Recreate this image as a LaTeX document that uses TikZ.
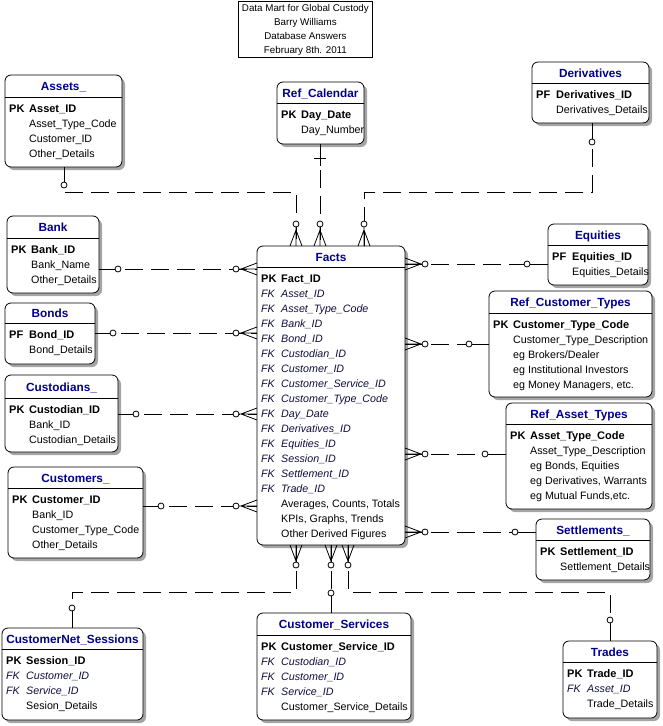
\documentclass[tikz,border=0pt]{standalone}
\usepackage{fontspec}
\setmainfont{Liberation Sans}
\definecolor{navy}{RGB}{0,0,140}
\definecolor{fkc}{RGB}{15,15,60}
\definecolor{shadowc}{RGB}{165,165,165}
\newcommand{\keyrow}[2]{{\fontsize{11}{15}\selectfont\bfseries\makebox[20pt][l]{#1}#2}}
\newcommand{\fkrow}[1]{{\color{fkc}\itshape\makebox[20pt][l]{FK}#1}}
\newcommand{\atrow}[1]{\makebox[20pt]{}#1}
\tikzset{
 ebox/.style={draw, line width=0.8pt, fill=white, rounded corners=6pt, anchor=north west, inner sep=0pt, outer sep=0pt},
 etitle/.style={font=\fontsize{11.8}{14}\selectfont\bfseries, text=navy, inner sep=0pt, text height=8.5pt, text depth=0.5pt},
 rows/.style={anchor=north west, inner sep=0pt, align=left, font=\fontsize{10.7}{15}\selectfont},
 rel/.style={line width=0.8pt, dash pattern=on 18pt off 8pt},
 stub/.style={line width=0.8pt},
}
% #1 name, #2 x1, #3 y1, #4 x2, #5 y2, #6 header y, #7 title, #8 rows
\newcommand{\entity}[8]{%
  \fill[shadowc, rounded corners=6pt] (#2+3,#3+3) rectangle (#4+3,#5+3);
  \node[ebox, minimum width=#4-#2, minimum height=#5-#3] (#1) at (#2,#3) {};
  \draw[line width=0.8pt] (#2,#6) -- (#4,#6);
  \node[etitle] (#1t) at ({(#2+#4)/2},{(#3+#6)/2+0.5}) {#7};
  \node[rows] (#1r) at (#2+4,#6+5) {\rule{0pt}{10pt}#8};
}
\newcommand{\zc}[2]{\draw[stub, fill=white] (#1,#2) circle[radius=3pt];}
\newcommand{\crowT}[1]{\draw[stub] (#1-6,246) -- (#1,230) -- (#1+6,246) (#1,227) -- (#1,246);}
\newcommand{\crowB}[1]{\draw[stub] (#1-6,545) -- (#1,561) -- (#1+6,545) (#1,545) -- (#1,562);}
\newcommand{\crowL}[1]{\draw[stub] (257,#1-6) -- (241,#1) -- (257,#1+6) (239,#1) -- (257,#1);}
\newcommand{\crowR}[1]{\draw[stub] (405,#1-6) -- (421,#1) -- (405,#1+6) (422,#1) -- (405,#1);}
\begin{document}
\begin{tikzpicture}[x=1pt,y=-1pt]
\useasboundingbox (0,0) rectangle (662,726);

\node[draw, line width=0.8pt, anchor=north west, minimum width=134, minimum height=56, inner sep=0pt, align=center, font=\fontsize{9.8}{14}\selectfont] (hdr) at (238,1) {\rule{0pt}{8pt}Data Mart for Global Custody\\Barry Williams\\Database Answers\\February 8th. 2011};

\entity{assets}{5}{75}{122}{167}{97}{Assets\_}{\keyrow{PK}{Asset\_ID}\\ \atrow{Asset\_Type\_Code}\\ \atrow{Customer\_ID}\\ \atrow{Other\_Details}}
\entity{refcal}{277}{82}{364}{144}{103}{Ref\_Calendar}{\keyrow{PK}{Day\_Date}\\ \atrow{Day\_Number}}
\entity{deriv}{532}{62}{649}{123}{83}{Derivatives}{\keyrow{PF}{Derivatives\_ID}\\ \atrow{Derivatives\_Details}}
\entity{bank}{7}{216}{99}{293}{238}{Bank}{\keyrow{PK}{Bank\_ID}\\ \atrow{Bank\_Name}\\ \atrow{Other\_Details}}
\entity{bonds}{5}{303}{95}{364}{323}{Bonds}{\keyrow{PF}{Bond\_ID}\\ \atrow{Bond\_Details}}
\entity{custod}{5}{375}{118}{452}{398}{Custodians\_}{\keyrow{PK}{Custodian\_ID}\\ \atrow{Bank\_ID}\\ \atrow{Custodian\_Details}}
\entity{customers}{8}{467}{143}{558}{488}{Customers\_}{\keyrow{PK}{Customer\_ID}\\ \atrow{Bank\_ID}\\ \atrow{Customer\_Type\_Code}\\ \atrow{Other\_Details}}
\entity{facts}{257}{246}{405}{545}{267}{Facts}{\keyrow{PK}{Fact\_ID}\\ \fkrow{Asset\_ID}\\ \fkrow{Asset\_Type\_Code}\\ \fkrow{Bank\_ID}\\ \fkrow{Bond\_ID}\\ \fkrow{Custodian\_ID}\\ \fkrow{Customer\_ID}\\ \fkrow{Customer\_Service\_ID}\\ \fkrow{Customer\_Type\_Code}\\ \fkrow{Day\_Date}\\ \fkrow{Derivatives\_ID}\\ \fkrow{Equities\_ID}\\ \fkrow{Session\_ID}\\ \fkrow{Settlement\_ID}\\ \fkrow{Trade\_ID}\\ \atrow{Averages, Counts, Totals}\\ \atrow{KPIs, Graphs, Trends}\\ \atrow{Other Derived Figures}}
\entity{equities}{548}{224}{648}{285}{245}{Equities}{\keyrow{PF}{Equities\_ID}\\ \atrow{Equities\_Details}}
\entity{rct}{489}{291}{652}{397}{313}{Ref\_Customer\_Types}{\keyrow{PK}{Customer\_Type\_Code}\\ \atrow{Customer\_Type\_Description}\\ \atrow{eg Brokers/Dealer}\\ \atrow{eg Institutional Investors}\\ \atrow{eg Money Managers, etc.}}
\entity{rat}{506}{403}{652}{509}{424}{Ref\_Asset\_Types}{\keyrow{PK}{Asset\_Type\_Code}\\ \atrow{Asset\_Type\_Description}\\ \atrow{eg Bonds, Equities}\\ \atrow{eg Derivatives, Warrants}\\ \atrow{eg Mutual Funds,etc.}}
\entity{settle}{536}{519}{650}{580}{540}{Settlements\_}{\keyrow{PK}{Settlement\_ID}\\ \atrow{Settlement\_Details}}
\entity{cns}{2}{628}{143}{720}{649}{CustomerNet\_Sessions}{\keyrow{PK}{Session\_ID}\\ \fkrow{Customer\_ID}\\ \fkrow{Service\_ID}\\ \atrow{Sesion\_Details}}
\entity{cs}{257}{613}{411}{720}{635}{Customer\_Services}{\keyrow{PK}{Customer\_Service\_ID}\\ \fkrow{Custodian\_ID}\\ \fkrow{Customer\_ID}\\ \fkrow{Service\_ID}\\ \atrow{Customer\_Service\_Details}}
\entity{trades}{563}{641}{657}{718}{662}{Trades}{\keyrow{PK}{Trade\_ID}\\ \fkrow{Asset\_ID}\\ \atrow{Trade\_Details}}

% top connectors
\draw[rel] (64,0 |- assets.south) -- (64,192) -- (296,192) -- (296,0 |- facts.north);
\draw[stub] (64,0 |- assets.south) -- (64,182);
\zc{64}{185}\zc{296}{224}\crowT{296}

\draw[rel] (320,0 |- refcal.south) -- (320,0 |- facts.north);
\draw[stub] (320,0 |- refcal.south) -- (320,166);
\draw[stub] (314,158) -- (326,158);
\zc{320}{224}\crowT{320}

\draw[rel] (592,0 |- deriv.south) -- (592,192) -- (364,192) -- (364,0 |- facts.north);
\draw[stub] (592,0 |- deriv.south) -- (592,139);
\zc{592}{142}\zc{364}{224}\crowT{364}

% left connectors
\draw[rel] (bank.east |- 0,269) -- (facts.west |- 0,269);
\draw[stub] (bank.east |- 0,269) -- (115,269);
\zc{118}{269}\zc{236}{269}\crowL{269}

\draw[rel] (bonds.east |- 0,333) -- (facts.west |- 0,333);
\draw[stub] (bonds.east |- 0,333) -- (110,333);
\zc{113}{333}\zc{236}{333}\crowL{333}

\draw[rel] (custod.east |- 0,414) -- (facts.west |- 0,414);
\draw[stub] (custod.east |- 0,414) -- (133,414);
\zc{136}{414}\zc{236}{414}\crowL{414}

\draw[rel] (customers.east |- 0,506) -- (facts.west |- 0,506);
\draw[stub] (customers.east |- 0,506) -- (158,506);
\zc{161}{506}\zc{236}{506}\crowL{506}

% right connectors
\draw[rel] (facts.east |- 0,264) -- (equities.west |- 0,264);
\draw[stub] (530,264) -- (equities.west |- 0,264);
\zc{527}{264}\zc{425}{264}\crowR{264}

\draw[rel] (facts.east |- 0,344) -- (rct.west |- 0,344);
\draw[stub] (472,344) -- (rct.west |- 0,344);
\zc{469}{344}\zc{425}{344}\crowR{344}

\draw[rel] (facts.east |- 0,454) -- (rat.west |- 0,454);
\draw[stub] (488,454) -- (rat.west |- 0,454);
\zc{485}{454}\zc{425}{454}\crowR{454}

\draw[rel] (facts.east |- 0,532) -- (settle.west |- 0,532);
\draw[stub] (518,532) -- (settle.west |- 0,532);
\zc{515}{532}\zc{425}{532}\crowR{532}

% bottom connectors
\draw[rel] (296,0 |- facts.south) -- (296,592) -- (72,592) -- (72,0 |- cns.north);
\draw[stub] (72,611) -- (72,0 |- cns.north);
\zc{72}{608}\zc{296}{565}\crowB{296}

\draw[rel] (331,0 |- facts.south) -- (331,0 |- cs.north);
\draw[stub] (331,596) -- (331,0 |- cs.north);
\zc{331}{593}\zc{331}{565}\crowB{331}

\draw[rel] (348,0 |- facts.south) -- (348,592) -- (610,592) -- (610,0 |- trades.north);
\draw[stub] (610,623) -- (610,0 |- trades.north);
\zc{610}{620}\zc{348}{565}\crowB{348}
\end{tikzpicture}
\end{document}
